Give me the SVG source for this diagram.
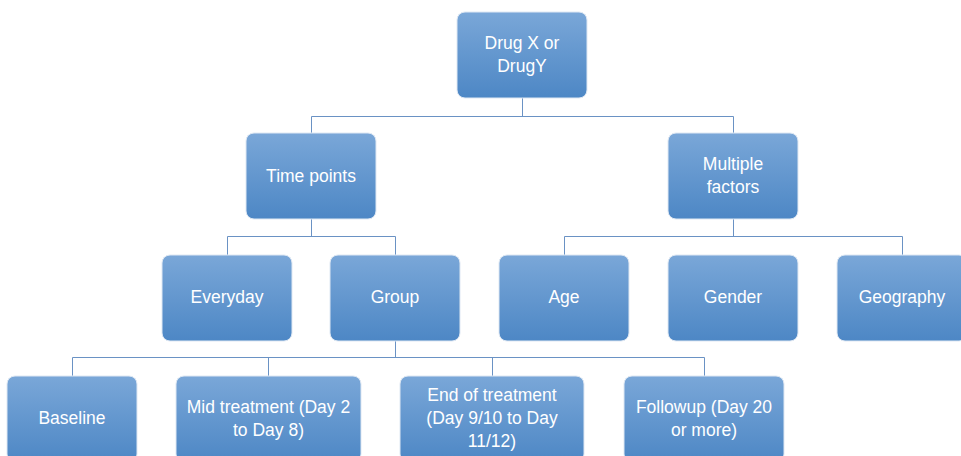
<svg xmlns="http://www.w3.org/2000/svg" width="961" height="456" viewBox="0 0 961 456">
<defs>
<linearGradient id="g" x1="0" y1="0" x2="0" y2="1">
<stop offset="0" stop-color="#7aa7d8"/>
<stop offset="1" stop-color="#4d87c5"/>
</linearGradient>
<style>
.box{fill:url(#g);stroke:#dfe8f3;stroke-width:1}
.t{font-family:"Liberation Sans",Arial,sans-serif;font-size:17.5px;fill:#ffffff;text-anchor:middle}
.c{fill:none;stroke:#6a92c4;stroke-width:1}
</style>
</defs>
<rect width="961" height="456" fill="#ffffff"/>
<g id="connectors">
<path class="c" d="M522.5 98V116.5M311.5 133V116.5H733.5V133"/>
<path class="c" d="M311.5 219V236.5M227.5 255V236.5H395.5V255"/>
<path class="c" d="M733.5 219V236.5M564.5 255V236.5H902.5V255"/>
<path class="c" d="M395.5 341V357.5M72.5 376V357.5H704.5V376M268.5 357.5V376M492.5 357.5V376"/>
</g>
<g id="root"><rect class="box" x="457" y="12" width="130" height="86" rx="8"/>
<text class="t" x="522" y="49">Drug X or</text><text class="t" x="522" y="72">DrugY</text></g>
<g id="timepoints"><rect class="box" x="246" y="133" width="130" height="86" rx="8"/>
<text class="t" x="311" y="182">Time points</text></g>
<g id="multiple"><rect class="box" x="668" y="133" width="130" height="86" rx="8"/>
<text class="t" x="733" y="170">Multiple</text><text class="t" x="733" y="193">factors</text></g>
<g id="everyday"><rect class="box" x="162" y="255" width="130" height="86" rx="8"/>
<text class="t" x="227" y="303">Everyday</text></g>
<g id="group"><rect class="box" x="330" y="255" width="130" height="86" rx="8"/>
<text class="t" x="395" y="303">Group</text></g>
<g id="age"><rect class="box" x="499" y="255" width="130" height="86" rx="8"/>
<text class="t" x="564" y="303">Age</text></g>
<g id="gender"><rect class="box" x="668" y="255" width="130" height="86" rx="8"/>
<text class="t" x="733" y="303">Gender</text></g>
<g id="geography"><rect class="box" x="837" y="255" width="130" height="86" rx="8"/>
<text class="t" x="902" y="303">Geography</text></g>
<g id="baseline"><rect class="box" x="7" y="376" width="130" height="86" rx="8"/>
<text class="t" x="72" y="424">Baseline</text></g>
<g id="mid"><rect class="box" x="176" y="376" width="185" height="86" rx="8"/>
<text class="t" x="268.5" y="413">Mid treatment (Day 2</text><text class="t" x="268.5" y="436">to Day 8)</text></g>
<g id="end"><rect class="box" x="400" y="376" width="184" height="86" rx="8"/>
<text class="t" x="492" y="401">End of treatment</text><text class="t" x="492" y="424">(Day 9/10 to Day</text><text class="t" x="492" y="447">11/12)</text></g>
<g id="followup"><rect class="box" x="624" y="376" width="160" height="86" rx="8"/>
<text class="t" x="704" y="413">Followup (Day 20</text><text class="t" x="704" y="436">or more)</text></g>
</svg>
